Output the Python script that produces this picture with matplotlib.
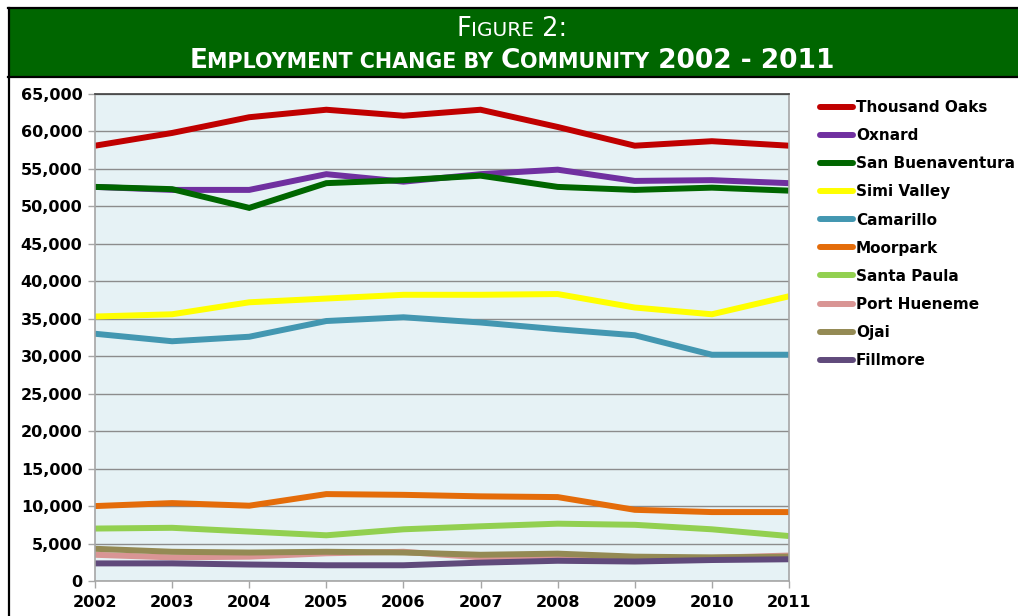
import matplotlib
matplotlib.use("Agg")
import matplotlib.pyplot as plt
from matplotlib.patches import Rectangle
from matplotlib.lines import Line2D
from matplotlib.ticker import FuncFormatter

years = [2002, 2003, 2004, 2005, 2006, 2007, 2008, 2009, 2010, 2011]

thousand_oaks = [58100, 59800, 61900, 62900, 62100, 62900, 60600, 58100, 58700, 58100]
oxnard = [52600, 52200, 52200, 54300, 53300, 54300, 54900, 53400, 53500, 53100]
san_buenaventura = [52600, 52300, 49800, 53100, 53500, 54100, 52600, 52200, 52500, 52100]
simi_valley = [35300, 35600, 37200, 37700, 38200, 38200, 38300, 36500, 35600, 38000]
camarillo = [33000, 32000, 32600, 34700, 35200, 34500, 33600, 32800, 30200, 30200]
moorpark = [10000, 10400, 10050, 11600, 11500, 11300, 11200, 9500, 9200, 9200]
santa_paula = [7000, 7100, 6600, 6100, 6900, 7300, 7650, 7500, 6900, 6000]
port_hueneme = [3500, 3150, 3250, 3700, 3900, 3150, 3250, 3000, 3100, 3400]
ojai = [4300, 3900, 3800, 3900, 3800, 3500, 3650, 3250, 3150, 3250]
fillmore = [2350, 2350, 2200, 2100, 2100, 2450, 2700, 2600, 2800, 2900]

names = ["Thousand Oaks", "Oxnard", "San Buenaventura", "Simi Valley", "Camarillo",
         "Moorpark", "Santa Paula", "Port Hueneme", "Ojai", "Fillmore"]
series = [thousand_oaks, oxnard, san_buenaventura, simi_valley, camarillo,
          moorpark, santa_paula, port_hueneme, ojai, fillmore]
colors = ["#C00000", "#7030A0", "#006600", "#FFFF00", "#4397B1",
          "#E46C0A", "#92D050", "#D99594", "#948A54", "#604A7B"]

W, H = 1018, 616
fig = plt.figure(figsize=(W / 100, H / 100), dpi=100)
fig.patch.set_facecolor("white")

# green title band and black frame
fig.patches.append(Rectangle((8 / W, 1 - 77 / H), 1, 69 / H, transform=fig.transFigure,
                             facecolor="#006600", edgecolor="none", zorder=0))
fig.add_artist(Line2D([8 / W, 1], [1 - 8 / H, 1 - 8 / H], color="black", lw=1.6))
fig.add_artist(Line2D([8 / W, 1], [1 - 76.5 / H, 1 - 76.5 / H], color="black", lw=1.6))
fig.add_artist(Line2D([8.5 / W, 8.5 / W], [0, 1 - 8 / H], color="black", lw=1.6))


def small_caps(parts, y, big, small, weight):
    # parts: list of (text, is_big); laid out left to right, centred on the page
    texts = []
    for s, b in parts:
        t = fig.text(0, y, s, fontsize=big if b else small, color="white",
                     family="DejaVu Sans", fontweight=weight,
                     va="baseline", ha="left")
        texts.append(t)
    r = fig.canvas.get_renderer()
    widths = [t.get_window_extent(r).width for t in texts]
    x = (512 - sum(widths) / 2) / W
    for t, w in zip(texts, widths):
        t.set_x(x)
        x += w / W


small_caps([("F", True), ("IGURE", False), (" 2:", True)], 1 - 36 / H, 18.5, 14.5, "normal")
small_caps([("E", True), ("MPLOYMENT CHANGE BY ", False), ("C", True), ("OMMUNITY", False),
            (" 2002 - 2011", True)], 1 - 67.5 / H, 19, 14.9, "bold")

ax = fig.add_axes([95 / W, 35 / H, 694 / W, 487 / H])
ax.set_facecolor("#E6F2F5")

for name, vals, c in zip(names, series, colors):
    ax.plot(years, vals, color=c, lw=4.3, label=name, solid_joinstyle="miter",
            solid_capstyle="butt")

ax.set_xlim(2002, 2011)
ax.set_ylim(0, 65000)
ax.set_xticks(years)
ax.set_yticks(range(0, 65001, 5000))
ax.yaxis.set_major_formatter(FuncFormatter(lambda v, p: f"{int(v):,}"))
ax.grid(axis="y", color="#8C8C8C", lw=1)
ax.set_axisbelow(True)
for sp in ax.spines.values():
    sp.set_color("#A6A6A6")
    sp.set_linewidth(1.2)
ax.spines["top"].set_color("#404040")
ax.tick_params(colors="#A6A6A6", length=5, width=1, labelcolor="black",
               labelsize=11.5, pad=4)
ax.tick_params(axis="x", pad=5)
for lbl in ax.get_xticklabels() + ax.get_yticklabels():
    lbl.set_fontweight("bold")

leg = ax.legend(loc="upper left", bbox_to_anchor=(820 / W, 1 - 100 / H),
                bbox_transform=fig.transFigure, frameon=False, handlelength=2.16,
                handletextpad=0.2, labelspacing=0.86, borderaxespad=0, borderpad=0,
                prop={"weight": "bold", "size": 11})
for h in leg.get_lines():
    h.set_linewidth(4.3)
    h.set_solid_capstyle("round")

fig.savefig("out.png", dpi=100)
